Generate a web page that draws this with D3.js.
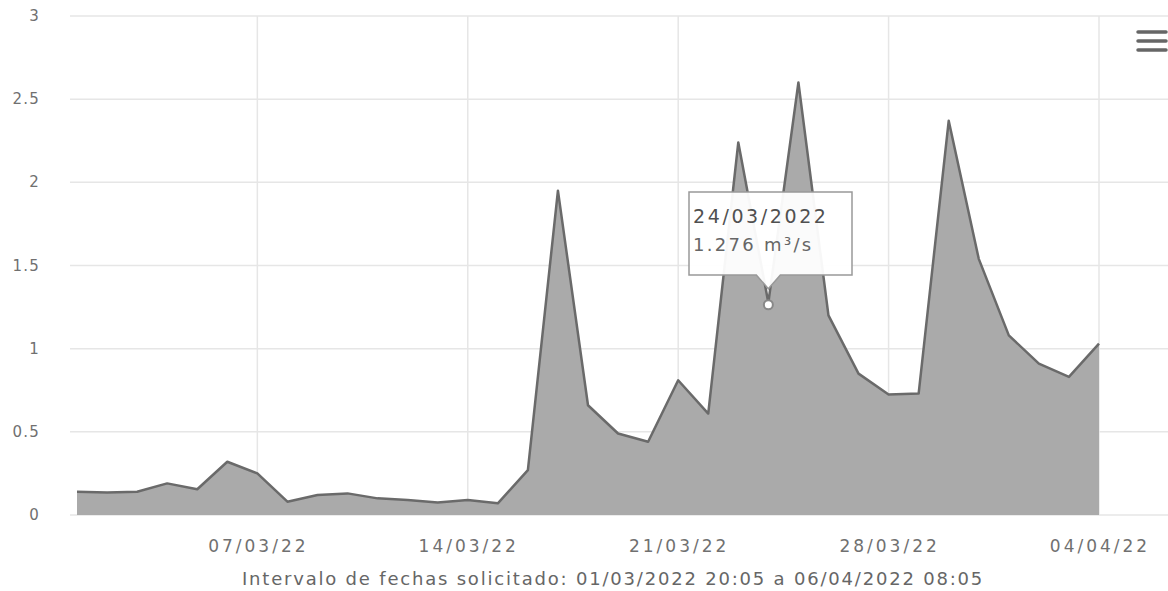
<!DOCTYPE html>
<html>
<head>
<meta charset="utf-8">
<script src="https://cdn.jsdelivr.net/npm/d3@7"></script>
<style>
  body { margin: 0; background: #fff; }
  text { font-family: "DejaVu Sans", sans-serif; }
</style>
</head>
<body>
<div id="chart"></div>
<script>
const w = 1168;
const h = 591;

// daily flow, m3/s, from 01/03/22 to 04/04/22
const days = [
  "2022-03-01","2022-03-02","2022-03-03","2022-03-04","2022-03-05","2022-03-06","2022-03-07",
  "2022-03-08","2022-03-09","2022-03-10","2022-03-11","2022-03-12","2022-03-13","2022-03-14",
  "2022-03-15","2022-03-16","2022-03-17","2022-03-18","2022-03-19","2022-03-20","2022-03-21",
  "2022-03-22","2022-03-23","2022-03-24","2022-03-25","2022-03-26","2022-03-27","2022-03-28",
  "2022-03-29","2022-03-30","2022-03-31","2022-04-01","2022-04-02","2022-04-03","2022-04-04"
];
const flow = [
  0.14, 0.135, 0.14, 0.19, 0.155, 0.32, 0.25,
  0.08, 0.12, 0.13, 0.10, 0.09, 0.075, 0.09,
  0.07, 0.27, 1.95, 0.66, 0.49, 0.44, 0.81,
  0.61, 2.24, 1.276, 2.60, 1.20, 0.85, 0.725,
  0.73, 2.37, 1.54, 1.08, 0.91, 0.83, 1.03
];
const yTicks = [0, 0.5, 1, 1.5, 2, 2.5, 3];
const xTicks = ["2022-03-07", "2022-03-14", "2022-03-21", "2022-03-28", "2022-04-04"];
const tipDay = "2022-03-24";
const caption = "Intervalo de fechas solicitado: 01/03/2022 20:05 a 06/04/2022 08:05";

const parse = d3.timeParse("%Y-%m-%d");
const data = days.map((d, i) => ({ date: parse(d), value: flow[i] }));

const x = d3.scaleTime()
  .domain([parse(days[0]), parse(days[days.length - 1])])
  .range([77, 1099]);
const y = d3.scaleLinear()
  .domain([0, 3])
  .range([515, 16]);

const svg = d3.select("#chart")
  .append("svg")
  .attr("width", w)
  .attr("height", h);

// horizontal grid
svg.append("g")
  .selectAll("line")
  .data(yTicks)
  .join("line")
  .attr("x1", 70)
  .attr("x2", w)
  .attr("y1", d => y(d))
  .attr("y2", d => y(d))
  .attr("stroke", "#e6e6e6")
  .attr("stroke-width", 1.5);

// vertical grid
svg.append("g")
  .selectAll("line")
  .data(xTicks)
  .join("line")
  .attr("x1", d => x(parse(d)))
  .attr("x2", d => x(parse(d)))
  .attr("y1", y(3))
  .attr("y2", y(0))
  .attr("stroke", "#e6e6e6")
  .attr("stroke-width", 1.5);

// area + line
const area = d3.area()
  .x(d => x(d.date))
  .y0(y(0))
  .y1(d => y(d.value));
const line = d3.line()
  .x(d => x(d.date))
  .y(d => y(d.value));

svg.append("path")
  .datum(data)
  .attr("d", area)
  .attr("fill", "#aaaaaa");

svg.append("path")
  .datum(data)
  .attr("d", line)
  .attr("fill", "none")
  .attr("stroke", "#6a6a6a")
  .attr("stroke-width", 2.5)
  .attr("stroke-linejoin", "round");

// y labels
svg.append("g")
  .selectAll("text")
  .data(yTicks)
  .join("text")
  .attr("x", 40)
  .attr("y", d => y(d) + 5)
  .attr("text-anchor", "end")
  .attr("font-size", 15)
  .attr("letter-spacing", 1.2)
  .attr("fill", "#707070")
  .text(d => d);

// x labels
const fmt = d3.timeFormat("%d/%m/%y");
svg.append("g")
  .selectAll("text")
  .data(xTicks)
  .join("text")
  .attr("x", d => x(parse(d)) + 1)
  .attr("y", 552)
  .attr("text-anchor", "middle")
  .attr("font-size", 17)
  .attr("letter-spacing", 3)
  .attr("fill", "#707070")
  .text(d => fmt(parse(d)));

// caption
svg.append("text")
  .attr("x", 613)
  .attr("y", 585)
  .attr("text-anchor", "middle")
  .attr("font-size", 18)
  .attr("letter-spacing", 1.8)
  .attr("fill", "#666")
  .text(caption);

// menu icon
svg.append("g")
  .selectAll("line")
  .data([0, 1, 2])
  .join("line")
  .attr("x1", 1138)
  .attr("x2", 1166)
  .attr("y1", d => 32 + d * 9)
  .attr("y2", d => 32 + d * 9)
  .attr("stroke", "#666")
  .attr("stroke-width", 3.5)
  .attr("stroke-linecap", "round");

// tooltip
const tip = data.find(d => +d.date === +parse(tipDay));
const tx = x(tip.date);
const ty = y(tip.value);

svg.append("circle")
  .attr("cx", tx)
  .attr("cy", ty + 2)
  .attr("r", 4.5)
  .attr("fill", "#fff")
  .attr("stroke", "#888")
  .attr("stroke-width", 2);

const bx0 = 689, bx1 = 852, by0 = 192, by1 = 275;
svg.append("path")
  .attr("d", `M${bx0},${by0} H${bx1} V${by1} H${tx + 12} L${tx},${ty - 14} L${tx - 12},${by1} H${bx0} Z`)
  .attr("fill", "#fff")
  .attr("fill-opacity", 0.95)
  .attr("stroke", "#999")
  .attr("stroke-width", 1.5);

svg.append("text")
  .attr("x", 693)
  .attr("y", 223)
  .attr("font-size", 19)
  .attr("letter-spacing", 2.6)
  .attr("fill", "#505050")
  .text(d3.timeFormat("%d/%m/%Y")(tip.date));

svg.append("text")
  .attr("x", 693)
  .attr("y", 251)
  .attr("font-size", 18)
  .attr("letter-spacing", 2.3)
  .attr("fill", "#666")
  .text(d3.format(".3f")(tip.value) + " m³/s");
</script>
</body>
</html>
